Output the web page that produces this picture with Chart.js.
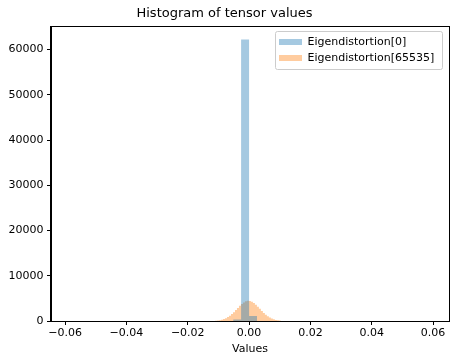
<!DOCTYPE html>
<html>
<head>
<meta charset="utf-8">
<script src="https://cdn.jsdelivr.net/npm/chart.js@4/dist/chart.umd.min.js"></script>
<style>
  body { margin: 0; background: #fff; }
</style>
</head>
<body>
<canvas id="histChart" width="455" height="364"></canvas>
<script>
// histogram bins
const blueLabel = 'Eigendistortion[0]';
const blueEdges = [-0.0052, -0.0026, 0.0, 0.0026];
const blueCounts = [350, 62200, 1100];

const orangeLabel = 'Eigendistortion[65535]';
const orangeEdges = [
  -0.01110, -0.01045, -0.00980, -0.00915, -0.00850, -0.00785, -0.00720, -0.00655,
  -0.00590, -0.00525, -0.00460, -0.00395, -0.00330, -0.00265, -0.00200, -0.00135,
  -0.00070, -0.00005, 0.00060, 0.00125, 0.00190, 0.00255, 0.00320, 0.00385,
  0.00450, 0.00515, 0.00580, 0.00645, 0.00710, 0.00775, 0.00840, 0.00905,
  0.00970, 0.01035
];
const orangeCounts = [
  80, 120, 190, 300, 430, 630, 870, 1180, 1550, 1960, 2430, 2900, 3360, 3770, 4110, 4340,
  4450, 4410, 4250, 3970, 3590, 3150, 2680, 2210, 1770, 1370, 1030, 750, 530, 370, 240, 160, 100
];

const xTicks = [-0.06, -0.04, -0.02, 0.00, 0.02, 0.04, 0.06];
const yTicks = [0, 10000, 20000, 30000, 40000, 50000, 60000];

// stepped outline: left edge of each bin at its count, then drop to 0 at the last edge
function binPoints(edges, counts) {
  const pts = counts.map((c, i) => ({ x: edges[i], y: c }));
  pts.push({ x: edges[edges.length - 1], y: 0 });
  return pts;
}

Chart.defaults.font.family = 'DejaVu Sans';
Chart.defaults.color = '#000';

const frame = {
  id: 'frame',
  afterLayout(chart) {
    // put the legend inside the plot, top right
    const lg = chart.legend;
    const ca = chart.chartArea;
    lg.left = ca.right - 175;
    lg.right = ca.right;
    lg.top = ca.top + 5.5;
    lg.bottom = ca.bottom;
  },
  afterDraw(chart) {
    const ctx = chart.ctx;
    const ca = chart.chartArea;
    ctx.save();
    ctx.strokeStyle = '#000';
    ctx.lineWidth = 1;
    ctx.strokeRect(Math.round(ca.left) - 0.5, Math.round(ca.top) + 0.5,
      Math.round(ca.right - ca.left) + 1, Math.round(ca.bottom - ca.top));
    // legend box
    ctx.strokeStyle = '#cccccc';
    ctx.beginPath();
    ctx.roundRect(ca.right - 173.5, ca.top + 5.5, 167, 38, 2);
    ctx.stroke();
    ctx.restore();
  }
};

new Chart(document.getElementById('histChart'), {
  type: 'line',
  data: {
    datasets: [
      {
        label: blueLabel,
        data: binPoints(blueEdges, blueCounts),
        stepped: 'before',
        fill: 'origin',
        backgroundColor: 'rgba(31, 119, 180, 0.4)',
        borderColor: 'transparent',
        borderWidth: 0,
        pointRadius: 0
      },
      {
        label: orangeLabel,
        data: binPoints(orangeEdges, orangeCounts),
        stepped: 'before',
        fill: 'origin',
        backgroundColor: 'rgba(255, 127, 14, 0.4)',
        borderColor: 'transparent',
        borderWidth: 0,
        pointRadius: 0
      }
    ]
  },
  options: {
    responsive: false,
    animation: false,
    layout: { padding: { left: 0, right: 6, top: 0, bottom: 0 } },
    plugins: {
      title: {
        display: true,
        text: 'Histogram of tensor values',
        font: { size: 13, weight: 'normal' },
        color: '#000',
        padding: { top: 6, bottom: 4.4 }
      },
      legend: {
        position: 'chartArea',
        align: 'start',
        labels: {
          boxWidth: 23,
          boxHeight: 6,
          padding: 5,
          font: { size: 11 },
          color: '#000'
        }
      },
      tooltip: { enabled: false }
    },
    scales: {
      x: {
        type: 'linear',
        min: -0.0646,
        max: 0.0652,
        afterBuildTicks: (scale) => { scale.ticks = xTicks.map(v => ({ value: v })); },
        afterFit: (scale) => { scale.height = 43; },
        ticks: {
          font: { size: 11 },
          color: '#000',
          padding: 2,
          maxRotation: 0,
          callback: (v) => v.toFixed(2).replace('-', '\u2212')
        },
        grid: { drawOnChartArea: false, drawTicks: true, tickLength: 4, color: '#000' },
        border: { color: '#000', width: 1 },
        title: {
          display: true,
          text: 'Values',
          font: { size: 11 },
          color: '#000',
          padding: { top: 0, bottom: 8 }
        }
      },
      y: {
        min: 0,
        max: 65200,
        afterBuildTicks: (scale) => { scale.ticks = yTicks.map(v => ({ value: v })); },
        afterFit: (scale) => { scale.width = 51; },
        ticks: {
          font: { size: 11 },
          color: '#000',
          padding: 3.5,
          callback: (v) => String(v)
        },
        grid: { drawOnChartArea: false, drawTicks: true, tickLength: 4, color: '#000' },
        border: { color: '#000', width: 1 }
      }
    }
  },
  plugins: [frame]
});
</script>
</body>
</html>
